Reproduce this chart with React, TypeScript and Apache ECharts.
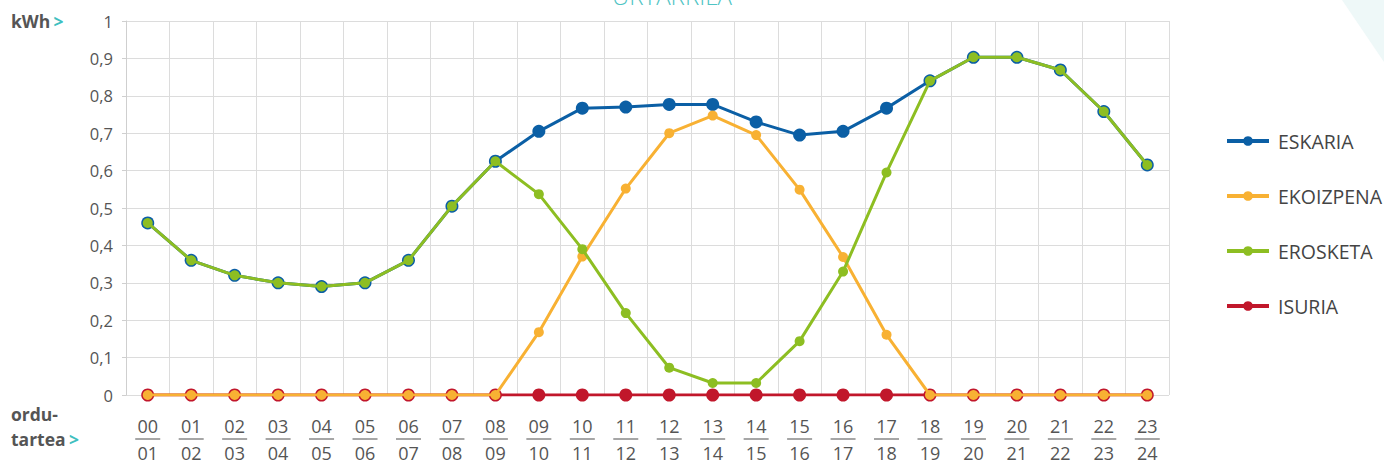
import React, { useEffect, useRef } from "react";
import * as echarts from "echarts";

const hoursFrom = ["00","01","02","03","04","05","06","07","08","09","10","11","12","13","14","15","16","17","18","19","20","21","22","23"];
const hoursTo = ["01","02","03","04","05","06","07","08","09","10","11","12","13","14","15","16","17","18","19","20","21","22","23","24"];
const yTicks = ["0","0,1","0,2","0,3","0,4","0,5","0,6","0,7","0,8","0,9","1"];

const eskaria = [0.46,0.36,0.32,0.30,0.29,0.30,0.36,0.505,0.625,0.705,0.767,0.77,0.777,0.777,0.73,0.695,0.705,0.767,0.84,0.903,0.903,0.869,0.758,0.615];
const ekoizpena = [0,0,0,0,0,0,0,0,0,0.168,0.37,0.552,0.70,0.747,0.695,0.549,0.369,0.161,0,0,0,0,0,0];
const erosketa = [0.46,0.36,0.32,0.30,0.29,0.30,0.36,0.505,0.625,0.537,0.39,0.219,0.073,0.032,0.032,0.144,0.33,0.595,0.84,0.903,0.903,0.869,0.758,0.615];
const isuria = [0,0,0,0,0,0,0,0,0,0,0,0,0,0,0,0,0,0,0,0,0,0,0,0];

const seriesNames = ["ESKARIA","EKOIZPENA","EROSKETA","ISURIA"];
const colors = { ESKARIA: "#0b5fa5", EKOIZPENA: "#f8b133", EROSKETA: "#8dbe22", ISURIA: "#c1172b" };

export default function App() {
  const ref = useRef<HTMLDivElement>(null);
  useEffect(() => {
    if (!ref.current) return;
    const chart = echarts.init(ref.current, null, { renderer: "svg" });
    const font = "'Open Sans', sans-serif";
    const mk = (name: string, data: number[], size: number, z: number) => ({
      name,
      type: "line",
      data,
      z,
      symbol: "circle",
      symbolSize: size,
      showSymbol: true,
      lineStyle: { width: 3, color: (colors as any)[name] },
      itemStyle: { color: (colors as any)[name] },
    });
    chart.setOption({
      animation: false,
      textStyle: { fontFamily: font },
      grid: { left: 126, right: 215, top: 21, bottom: 67, containLabel: false, outerBoundsMode: "none" },
      xAxis: {
        type: "category",
        data: hoursFrom.map((h, i) => h + "|" + hoursTo[i]),
        boundaryGap: true,
        axisLine: { show: false },
        axisTick: { show: false },
        splitLine: { show: true, interval: 0, lineStyle: { color: "#dcdcdc", width: 1 } },
        axisLabel: {
          interval: 0,
          margin: 22,
          formatter: (v: string) => {
            const [a, b] = v.split("|");
            return "{a|" + a + "}\n{l| }\n{b|" + b + "}";
          },
          rich: {
            a: { fontSize: 18, color: "#555", fontFamily: font, lineHeight: 18 },
            l: { width: 25, height: 1.5, lineHeight: 8, backgroundColor: "#888", fontSize: 1 },
            b: { fontSize: 18, color: "#555", fontFamily: font, lineHeight: 19 },
          },
        },
      },
      yAxis: {
        type: "value",
        min: 0,
        max: 1,
        interval: 0.1,
        axisLine: { show: true, lineStyle: { color: "#cfcfcf" } },
        axisTick: { show: true, length: 4, lineStyle: { color: "#cfcfcf" } },
        splitLine: { show: true, lineStyle: { color: "#dcdcdc" } },
        axisLabel: {
          margin: 13,
          fontSize: 16.5,
          color: "#555",
          fontFamily: font,
          formatter: (v: number) => yTicks[Math.round(v * 10)],
        },
      },
      legend: {
        orient: "vertical",
        left: 1220,
        top: 126,
        itemWidth: 42,
        itemHeight: 12,
        itemGap: 35,
        data: seriesNames,
        lineStyle: { width: 4 },
        textStyle: { fontSize: 19.5, color: "#444", fontFamily: font, padding: [0, 0, 0, 4] },
      },
      graphic: [
        {
          type: "polygon",
          shape: { points: [[1342, 0], [1384, 0], [1384, 62]] },
          style: { fill: "#eef8f8" },
          z: -1,
        },
        {
          type: "text",
          x: 672,
          y: -5,
          style: { text: "URTARRILA", fill: "#4fc4c4", fontSize: 24, fontFamily: font, fontWeight: 300, align: "center", verticalAlign: "middle" },
        },
        {
          type: "text",
          x: 11,
          y: 21,
          style: {
            text: "{a|kWh} {b|>}",
            verticalAlign: "middle",
            rich: {
              a: { fontSize: 17.5, fontWeight: "bold", fill: "#555", fontFamily: font },
              b: { fontSize: 17.5, fontWeight: "bold", fill: "#3fbfbf", fontFamily: font },
            },
          },
        },
        {
          type: "text",
          x: 11,
          y: 426,
          style: {
            text: "{a|ordu-}\n{a|tartea} {b|>}",
            verticalAlign: "middle",
            rich: {
              a: { fontSize: 17.5, fontWeight: "bold", fill: "#555", fontFamily: font, lineHeight: 25 },
              b: { fontSize: 17.5, fontWeight: "bold", fill: "#3fbfbf", fontFamily: font, lineHeight: 25 },
            },
          },
        },
      ],
      series: [
        mk("ESKARIA", eskaria, 13, 3),
        mk("EKOIZPENA", ekoizpena, 10, 4),
        mk("EROSKETA", erosketa, 10, 5),
        mk("ISURIA", isuria, 13, 2),
      ],
    });
    return () => chart.dispose();
  }, []);
  return <div ref={ref} style={{ width: 1384, height: 462, position: "absolute", left: 0, top: 0 }} />;
}
